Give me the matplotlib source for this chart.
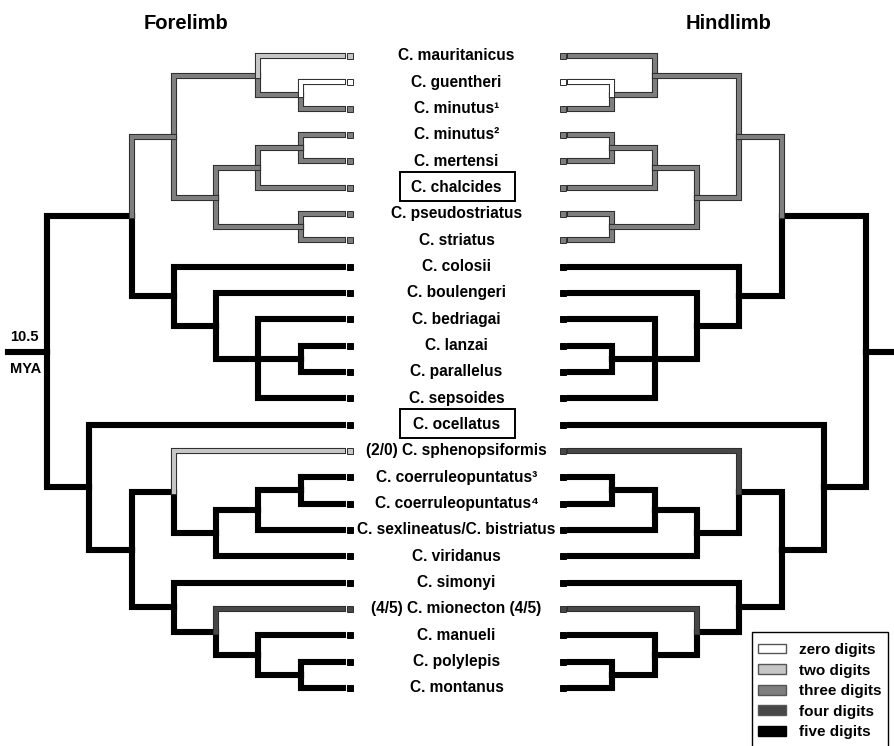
import matplotlib
matplotlib.use("Agg")
import matplotlib.pyplot as plt
from matplotlib.patches import Rectangle, Patch
import matplotlib.patheffects as pe

plt.rcParams['font.family'] = ['Liberation Sans', 'DejaVu Sans']

# ---------------- data ----------------
TAXA = ["C. mauritanicus", "C. guentheri", "C. minutus\u00b9", "C. minutus\u00b2",
        "C. mertensi", "C. chalcides", "C. pseudostriatus", "C. striatus",
        "C. colosii", "C. boulengeri", "C. bedriagai", "C. lanzai",
        "C. parallelus", "C. sepsoides", "C. ocellatus",
        "(2/0) C. sphenopsiformis", "C. coerruleopuntatus\u00b3",
        "C. coerruleopuntatus\u2074", "C. sexlineatus/C. bistriatus",
        "C. viridanus", "C. simonyi", "(4/5) C. mionecton (4/5)",
        "C. manueli", "C. polylepis", "C. montanus"]

# number of digits per tip (forelimb / hindlimb)
TIP_FORE = [2, 0, 3, 3, 3, 3, 3, 3, 5, 5, 5, 5, 5, 5, 5, 2, 5, 5, 5, 5, 5, 4, 5, 5, 5]
TIP_HIND = [3, 0, 3, 3, 3, 3, 3, 3, 5, 5, 5, 5, 5, 5, 5, 4, 5, 5, 5, 5, 5, 4, 5, 5, 5]

# internal nodes (post-order): children are tip indices (int) or node names (str)
NODE_NAMES = ["gm", "m", "mm", "mmc", "ps", "ch", "up3", "lp", "blps", "bb", "cb", "up",
              "c34", "cs", "csv", "scv", "pm", "mpm", "mm2", "sm", "low2", "low", "root"]
NODE_CHILDREN = [[1, 2], [0, "gm"], [3, 4], ["mm", 5], [6, 7], ["mmc", "ps"], ["m", "ch"],
                 [11, 12], [10, "lp", 13], [9, "blps"], [8, "bb"], ["up3", "cb"],
                 [16, 17], ["c34", 18], ["cs", 19], [15, "csv"], [23, 24], [22, "pm"],
                 [21, "mpm"], [20, "mm2"], ["scv", "sm"], [14, "low2"], ["up", "low"]]
NODE_HEIGHT = [1, 2, 1, 2, 1, 3, 4, 1, 2, 3, 4, 5, 1, 2, 3, 4, 1, 2, 3, 4, 5, 6, 7]
NODE_FORE = [3, 3, 3, 3, 3, 3, 3, 5, 5, 5, 5, 5, 5, 5, 5, 5, 5, 5, 5, 5, 5, 5, 5]
NODE_HIND = [3, 3, 3, 3, 3, 3, 3, 5, 5, 5, 5, 5, 5, 5, 5, 5, 5, 5, 5, 5, 5, 5, 5]

BOXED = ["C. chalcides", "C. ocellatus"]
LEGEND_STATES = [0, 2, 3, 4, 5]
LEGEND_LABELS = ["zero digits", "two digits", "three digits", "four digits", "five digits"]

# ---------------- style ----------------
COLORS = {0: "#ffffff", 2: "#c6c6c6", 3: "#7e7e7e", 4: "#474747", 5: "#000000"}
OUTLINE = "#2e2e2e"
W, H = 895, 746
PX_LEVEL = 42.3
PX_TIP = 26.33
CENTER_PX = 456.5
TOP_TIP_PX = 56
TIP_X = (CENTER_PX - 343) / PX_LEVEL
LW_OUT = 4.4
LW_IN = 2.9

fig = plt.figure(figsize=(W / 100, H / 100), dpi=100)
ax = fig.add_axes([0, 0, 1, 1])
ax.set_xlim(-CENTER_PX / PX_LEVEL, (W - CENTER_PX) / PX_LEVEL)
ax.set_ylim((H - TOP_TIP_PX) / PX_TIP, -TOP_TIP_PX / PX_TIP)
ax.axis("off")

# node y positions
ypos = {i: float(i) for i in range(len(TAXA))}
hgt = {i: 0 for i in range(len(TAXA))}
for name, ch, h in zip(NODE_NAMES, NODE_CHILDREN, NODE_HEIGHT):
    ys = [ypos[c] for c in ch]
    ypos[name] = (min(ys) + max(ys)) / 2
    hgt[name] = h


def draw_side(sign, tip_state, node_state):
    state = {i: s for i, s in enumerate(tip_state)}
    for n, s in zip(NODE_NAMES, node_state):
        state[n] = s
    branches = []
    for name, ch in zip(NODE_NAMES, NODE_CHILDREN):
        xp = sign * (TIP_X + hgt[name])
        for c in ch:
            xc = sign * (TIP_X + hgt[c])
            branches.append((state[c], [xp, xp, xc], [ypos[name], ypos[c], ypos[c]]))
    # root stub
    xr = sign * (TIP_X + hgt["root"])
    branches.append((5, [xr, xr + sign * 0.92], [ypos["root"], ypos["root"]]))
    branches.sort(key=lambda b: -b[0])
    for s, xs, ys in branches:
        if s == 5:
            ax.plot(xs, ys, color="black", lw=LW_OUT, solid_capstyle="projecting",
                    solid_joinstyle="miter", zorder=2)
        else:
            ax.plot(xs, ys, color=COLORS[s], lw=LW_IN, solid_capstyle="projecting",
                    solid_joinstyle="miter", zorder=3,
                    path_effects=[pe.Stroke(linewidth=LW_OUT, foreground=OUTLINE),
                                  pe.Normal()])
    # tip markers
    for i, s in enumerate(tip_state):
        ax.plot(sign * (TIP_X - 0.155), i, marker="s", ms=4.3, mew=0.7,
                mfc=COLORS[s], mec="black" if s == 5 else OUTLINE, zorder=4)


draw_side(-1, TIP_FORE, NODE_FORE)
draw_side(1, TIP_HIND, NODE_HIND)

# tip labels
for i, name in enumerate(TAXA):
    ax.text(0, i, name, ha="center", va="center", fontsize=11.2, fontweight="bold")
    if name in BOXED:
        ax.add_patch(Rectangle((-1.33, i - 0.58), 2.72, 1.08, fill=False,
                               lw=1.4, ec="black", zorder=5))

# titles
ax.text(-6.39, -1.25, "Forelimb", ha="center", va="center", fontsize=14.5, fontweight="bold")
ax.text(6.42, -1.25, "Hindlimb", ha="center", va="center", fontsize=14.5, fontweight="bold")

# time scale
xl = -(TIP_X + hgt["root"] + 0.92)
ax.text(xl + 0.05, ypos["root"] - 0.55, "10.5", ha="left", va="center",
        fontsize=10.5, fontweight="bold")
ax.text(xl + 0.05, ypos["root"] + 0.65, "MYA", ha="left", va="center",
        fontsize=10.5, fontweight="bold")

# legend (frame runs off the bottom edge, as in the original)
frame = Rectangle((752 / W, -0.05), 136 / W, (H - 632) / H + 0.05, transform=fig.transFigure,
                  facecolor="white", edgecolor="black", lw=1.0, zorder=8)
ax.add_patch(frame)
handles = [Patch(facecolor=COLORS[s], edgecolor="#555555" if s != 5 else "black", lw=1)
           for s in LEGEND_STATES]
leg = ax.legend(handles, LEGEND_LABELS, loc="upper left",
                bbox_to_anchor=(758 / W, 1 - 643 / H), bbox_transform=fig.transFigure,
                borderaxespad=0, frameon=False,
                prop={"weight": "bold", "size": 11}, handlelength=1.85,
                handleheight=0.6, handletextpad=0.85, labelspacing=0.43,
                borderpad=0)
leg.set_zorder(9)

fig.savefig("out.png", dpi=100)
